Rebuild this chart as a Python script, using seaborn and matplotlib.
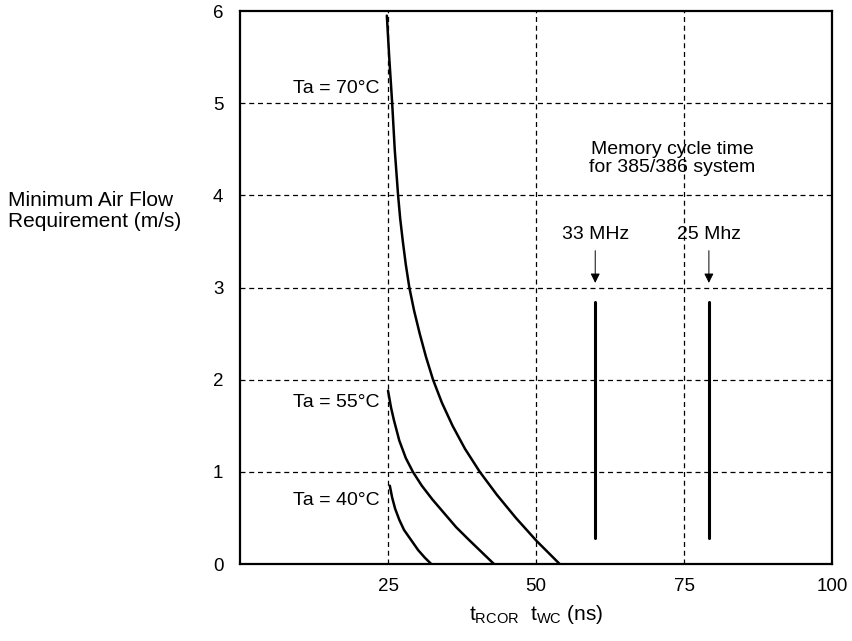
import pandas as pd
import matplotlib.pyplot as plt
import seaborn as sns

# Curve points (t in ns, air flow in m/s)
t_70 = [24.8, 25.2, 25.7, 26.13, 26.7, 27.05, 27.5, 28.0, 28.6, 29.4, 30.35, 31.4,
        32.6, 34.1, 35.9, 38.0, 40.5, 43.4, 46.6, 50.1, 54.0]
v_70 = [5.95, 5.5, 5.0, 4.5, 4.0, 3.75, 3.5, 3.25, 3.0, 2.75, 2.5, 2.25,
        2.0, 1.75, 1.5, 1.25, 1.0, 0.75, 0.5, 0.25, 0.0]
t_55 = [25.0, 25.5, 26.0, 26.9, 28.0, 29.2, 30.7, 32.5, 34.5, 36.5, 38.7, 40.8, 42.9]
v_55 = [1.88, 1.7, 1.56, 1.34, 1.15, 1.0, 0.85, 0.7, 0.55, 0.4, 0.26, 0.13, 0.0]
t_40 = [25.3, 25.7, 26.2, 26.9, 27.7, 28.9, 30.1, 31.2, 32.3]
v_40 = [0.85, 0.72, 0.6, 0.48, 0.37, 0.26, 0.15, 0.07, 0.0]

# Memory cycle time markers
freq_labels = ['33 MHz', '25 Mhz']
freq_t = [60.0, 79.2]
freq_low = [0.28, 0.28]
freq_high = [2.84, 2.84]

x_ticks = [25, 50, 75, 100]
y_ticks = [0, 1, 2, 3, 4, 5, 6]

df = pd.concat([
    pd.DataFrame({'t': t_70, 'v': v_70, 'Ta': '70'}),
    pd.DataFrame({'t': t_55, 'v': v_55, 'Ta': '55'}),
    pd.DataFrame({'t': t_40, 'v': v_40, 'Ta': '40'}),
], ignore_index=True)

sns.set_theme(style="white")
plt.rcParams['font.family'] = ['Liberation Sans', 'DejaVu Sans']
plt.rcParams['text.color'] = 'black'
plt.rcParams['mathtext.fontset'] = 'custom'
plt.rcParams['mathtext.rm'] = 'Liberation Sans'
plt.rcParams['mathtext.it'] = 'Liberation Sans'

fig = plt.figure(figsize=(8.53, 6.41), dpi=100)
ax = fig.add_axes([0.2814, 0.1201, 0.694, 0.8627])

# Dashed grid
for gx in [25, 50, 75]:
    ax.axvline(gx, color='black', lw=0.9, ls=(0, (4, 3)), zorder=1)
for gy in [1, 2, 3, 4, 5]:
    ax.axhline(gy, color='black', lw=0.9, ls=(0, (4, 3)), zorder=1)

sns.lineplot(data=df, x='t', y='v', hue='Ta', units='Ta', estimator=None,
             sort=False, palette=['black'] * 3, lw=1.8, legend=False, ax=ax, zorder=3)

fs = 14
ax.text(23.5, 5.16, 'Ta = 70°C', ha='right', va='center', fontsize=fs)
ax.text(23.5, 1.75, 'Ta = 55°C', ha='right', va='center', fontsize=fs)
ax.text(23.5, 0.69, 'Ta = 40°C', ha='right', va='center', fontsize=fs)

for lab, tx, lo, hi in zip(freq_labels, freq_t, freq_low, freq_high):
    ax.plot([tx, tx], [lo, hi], color='black', lw=2.2, zorder=3)
    ax.annotate('', xy=(tx, 3.02), xytext=(tx, 3.43),
                arrowprops=dict(arrowstyle='-|>', color='black', lw=0.7,
                                mutation_scale=14))
    ax.text(tx, 3.58, lab, ha='center', va='center', fontsize=fs)

ax.text(73, 4.4, 'Memory cycle time\nfor 385/386 system', ha='center',
        va='center', fontsize=fs, linespacing=1.05)

ax.set_xlim(0, 100)
ax.set_ylim(0, 6)
ax.set_xticks(x_ticks)
ax.set_yticks(y_ticks)
ax.tick_params(length=0, labelsize=13.5, colors='black')
ax.tick_params(axis='x', pad=10)
ax.tick_params(axis='y', pad=12)
for s in ax.spines.values():
    s.set_color('black')
    s.set_linewidth(1.6)

ax.set_xlabel(r'$\mathregular{t_{RCOR}\ \ t_{WC}}$ (ns)', fontsize=15,
              labelpad=6, color='black')
ax.set_ylabel('')
fig.text(8 / 853, 1 - 211 / 641, 'Minimum Air Flow\nRequirement (m/s)',
         ha='left', va='center', fontsize=15, linespacing=1.1)

fig.savefig('out.png', dpi=100)
